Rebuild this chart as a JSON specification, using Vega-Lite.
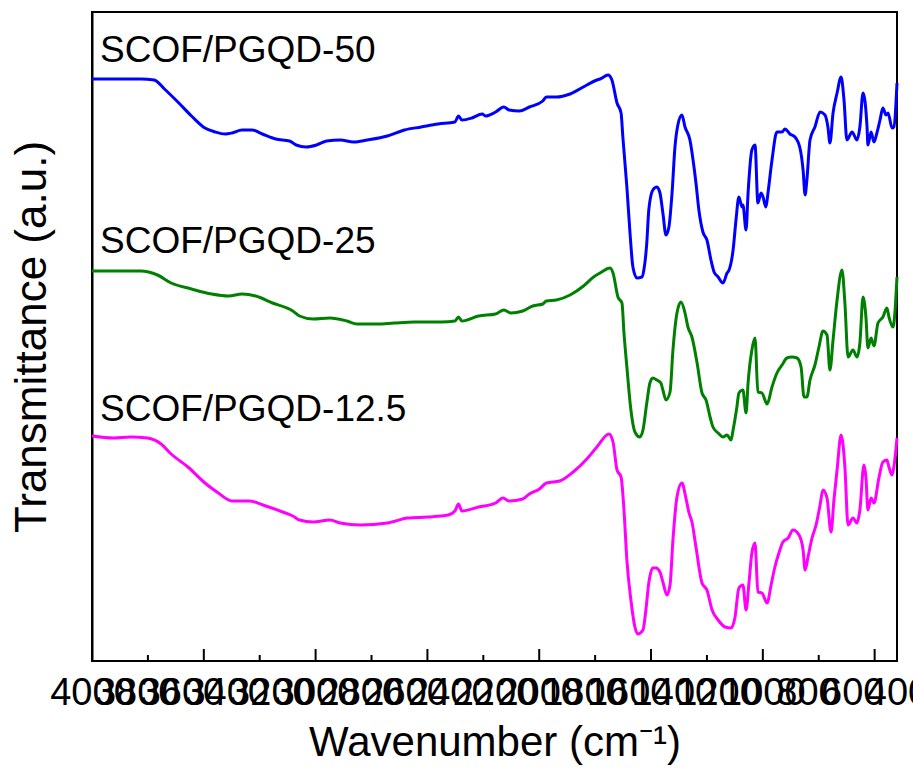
{
  "$schema": "https://vega.github.io/schema/vega-lite/v6.json",
  "width": 805,
  "height": 649,
  "autosize": {"type": "none"},
  "padding": {"left": 92, "top": 12, "right": 16, "bottom": 110},
  "background": "#ffffff",
  "config": {
    "view": {"stroke": "#000000", "strokeWidth": 2},
    "font": "Liberation Sans",
    "axisX": {
      "values": [4000, 3500, 3000, 2500, 2000, 1500, 1000, 500],
      "format": "d",
      "ticks": false,
      "tickSize": 0,
      "domain": false,
      "grid": false,
      "labelFont": "Liberation Sans",
      "labelFontSize": 38,
      "labelColor": "#000000",
      "labelPadding": 13,
      "labelFlush": false,
      "labelOverlap": false,
      "titleFont": "Liberation Sans",
      "titleFontSize": 42,
      "titleFontWeight": "normal",
      "titleColor": "#000000",
      "titlePadding": 10
    },
    "axisY": {
      "titleFont": "Liberation Sans",
      "titleFontSize": 44,
      "titleFontWeight": "normal",
      "titleColor": "#000000",
      "titlePadding": 38,
      "labels": false,
      "ticks": false,
      "tickSize": 0,
      "grid": false,
      "domainColor": "#000000",
      "domainWidth": 2
    }
  },
  "datasets": {
    "spectra": [
      {"s":"50","w":4000,"t":582},{"s":"50","w":3782,"t":582},{"s":"50","w":3722,"t":581},{"s":"50","w":3676,"t":572},{"s":"50","w":3616,"t":559},{"s":"50","w":3555,"t":545},{"s":"50","w":3495,"t":533},{"s":"50","w":3449,"t":529},{"s":"50","w":3404,"t":527},{"s":"50","w":3374,"t":528},{"s":"50","w":3329,"t":531},{"s":"50","w":3284,"t":531},{"s":"50","w":3238,"t":527},{"s":"50","w":3178,"t":522},{"s":"50","w":3117,"t":520},{"s":"50","w":3087,"t":516},{"s":"50","w":3042,"t":514},{"s":"50","w":2996,"t":516},{"s":"50","w":2951,"t":520},{"s":"50","w":2890,"t":521},{"s":"50","w":2830,"t":519},{"s":"50","w":2769,"t":521},{"s":"50","w":2679,"t":525},{"s":"50","w":2603,"t":531},{"s":"50","w":2528,"t":534},{"s":"50","w":2452,"t":537},{"s":"50","w":2377,"t":539},{"s":"50","w":2361,"t":545},{"s":"50","w":2346,"t":541},{"s":"50","w":2301,"t":543},{"s":"50","w":2255,"t":547},{"s":"50","w":2240,"t":545},{"s":"50","w":2195,"t":549},{"s":"50","w":2158,"t":554},{"s":"50","w":2135,"t":551},{"s":"50","w":2089,"t":550},{"s":"50","w":2044,"t":554},{"s":"50","w":1984,"t":560},{"s":"50","w":1968,"t":564},{"s":"50","w":1923,"t":564},{"s":"50","w":1862,"t":567},{"s":"50","w":1787,"t":576},{"s":"50","w":1742,"t":581},{"s":"50","w":1728,"t":582},{"s":"50","w":1692,"t":586},{"s":"50","w":1675,"t":581},{"s":"50","w":1652,"t":558},{"s":"50","w":1634,"t":548},{"s":"50","w":1626,"t":524},{"s":"50","w":1608,"t":474},{"s":"50","w":1594,"t":428},{"s":"50","w":1581,"t":394},{"s":"50","w":1563,"t":383},{"s":"50","w":1541,"t":384},{"s":"50","w":1532,"t":391},{"s":"50","w":1519,"t":418},{"s":"50","w":1510,"t":451},{"s":"50","w":1492,"t":471},{"s":"50","w":1474,"t":474},{"s":"50","w":1460,"t":468},{"s":"50","w":1447,"t":448},{"s":"50","w":1433,"t":426},{"s":"50","w":1420,"t":434},{"s":"50","w":1406,"t":468},{"s":"50","w":1393,"t":514},{"s":"50","w":1380,"t":536},{"s":"50","w":1362,"t":546},{"s":"50","w":1348,"t":534},{"s":"50","w":1326,"t":521},{"s":"50","w":1312,"t":501},{"s":"50","w":1299,"t":478},{"s":"50","w":1286,"t":451},{"s":"50","w":1268,"t":429},{"s":"50","w":1250,"t":421},{"s":"50","w":1232,"t":401},{"s":"50","w":1218,"t":389},{"s":"50","w":1200,"t":384},{"s":"50","w":1178,"t":378},{"s":"50","w":1160,"t":388},{"s":"50","w":1151,"t":391},{"s":"50","w":1133,"t":411},{"s":"50","w":1120,"t":441},{"s":"50","w":1107,"t":464},{"s":"50","w":1093,"t":454},{"s":"50","w":1089,"t":456},{"s":"50","w":1075,"t":431},{"s":"50","w":1066,"t":468},{"s":"50","w":1049,"t":511},{"s":"50","w":1035,"t":516},{"s":"50","w":1022,"t":458},{"s":"50","w":1008,"t":468},{"s":"50","w":999,"t":464},{"s":"50","w":986,"t":454},{"s":"50","w":977,"t":468},{"s":"50","w":959,"t":501},{"s":"50","w":937,"t":529},{"s":"50","w":914,"t":529},{"s":"50","w":901,"t":532},{"s":"50","w":879,"t":527},{"s":"50","w":856,"t":524},{"s":"50","w":834,"t":513},{"s":"50","w":820,"t":491},{"s":"50","w":811,"t":466},{"s":"50","w":803,"t":481},{"s":"50","w":789,"t":521},{"s":"50","w":767,"t":534},{"s":"50","w":744,"t":549},{"s":"50","w":722,"t":546},{"s":"50","w":709,"t":534},{"s":"50","w":700,"t":518},{"s":"50","w":686,"t":548},{"s":"50","w":668,"t":568},{"s":"50","w":650,"t":584},{"s":"50","w":637,"t":561},{"s":"50","w":624,"t":521},{"s":"50","w":601,"t":529},{"s":"50","w":579,"t":521},{"s":"50","w":566,"t":534},{"s":"50","w":552,"t":568},{"s":"50","w":534,"t":534},{"s":"50","w":530,"t":516},{"s":"50","w":516,"t":529},{"s":"50","w":503,"t":519},{"s":"50","w":490,"t":528},{"s":"50","w":476,"t":541},{"s":"50","w":463,"t":553},{"s":"50","w":449,"t":546},{"s":"50","w":440,"t":548},{"s":"50","w":422,"t":533},{"s":"50","w":414,"t":534},{"s":"50","w":400,"t":578},
      {"s":"25","w":4000,"t":390},{"s":"25","w":3858,"t":390},{"s":"25","w":3782,"t":390},{"s":"25","w":3707,"t":386},{"s":"25","w":3646,"t":378},{"s":"25","w":3555,"t":372},{"s":"25","w":3465,"t":367},{"s":"25","w":3389,"t":365},{"s":"25","w":3329,"t":367},{"s":"25","w":3268,"t":365},{"s":"25","w":3193,"t":358},{"s":"25","w":3102,"t":350},{"s":"25","w":3072,"t":345},{"s":"25","w":3011,"t":342},{"s":"25","w":2936,"t":343},{"s":"25","w":2860,"t":340},{"s":"25","w":2815,"t":337},{"s":"25","w":2724,"t":337},{"s":"25","w":2649,"t":338},{"s":"25","w":2558,"t":339},{"s":"25","w":2437,"t":339},{"s":"25","w":2377,"t":340},{"s":"25","w":2361,"t":344},{"s":"25","w":2346,"t":340},{"s":"25","w":2271,"t":345},{"s":"25","w":2195,"t":347},{"s":"25","w":2158,"t":351},{"s":"25","w":2127,"t":348},{"s":"25","w":2074,"t":350},{"s":"25","w":2029,"t":355},{"s":"25","w":1984,"t":357},{"s":"25","w":1968,"t":360},{"s":"25","w":1923,"t":361},{"s":"25","w":1862,"t":366},{"s":"25","w":1802,"t":375},{"s":"25","w":1757,"t":384},{"s":"25","w":1728,"t":388},{"s":"25","w":1683,"t":393},{"s":"25","w":1670,"t":388},{"s":"25","w":1648,"t":364},{"s":"25","w":1630,"t":358},{"s":"25","w":1621,"t":328},{"s":"25","w":1608,"t":294},{"s":"25","w":1590,"t":251},{"s":"25","w":1572,"t":229},{"s":"25","w":1550,"t":224},{"s":"25","w":1536,"t":231},{"s":"25","w":1519,"t":258},{"s":"25","w":1505,"t":278},{"s":"25","w":1492,"t":283},{"s":"25","w":1474,"t":281},{"s":"25","w":1456,"t":278},{"s":"25","w":1447,"t":271},{"s":"25","w":1433,"t":261},{"s":"25","w":1415,"t":269},{"s":"25","w":1402,"t":311},{"s":"25","w":1384,"t":348},{"s":"25","w":1366,"t":359},{"s":"25","w":1348,"t":348},{"s":"25","w":1335,"t":334},{"s":"25","w":1317,"t":324},{"s":"25","w":1294,"t":298},{"s":"25","w":1272,"t":268},{"s":"25","w":1254,"t":261},{"s":"25","w":1236,"t":244},{"s":"25","w":1223,"t":234},{"s":"25","w":1200,"t":228},{"s":"25","w":1178,"t":224},{"s":"25","w":1160,"t":226},{"s":"25","w":1142,"t":221},{"s":"25","w":1133,"t":231},{"s":"25","w":1116,"t":254},{"s":"25","w":1107,"t":268},{"s":"25","w":1089,"t":271},{"s":"25","w":1075,"t":248},{"s":"25","w":1066,"t":278},{"s":"25","w":1049,"t":311},{"s":"25","w":1035,"t":323},{"s":"25","w":1022,"t":269},{"s":"25","w":1004,"t":268},{"s":"25","w":981,"t":257},{"s":"25","w":959,"t":274},{"s":"25","w":937,"t":288},{"s":"25","w":914,"t":296},{"s":"25","w":892,"t":303},{"s":"25","w":870,"t":304},{"s":"25","w":847,"t":303},{"s":"25","w":829,"t":294},{"s":"25","w":816,"t":264},{"s":"25","w":803,"t":264},{"s":"25","w":789,"t":281},{"s":"25","w":767,"t":296},{"s":"25","w":749,"t":314},{"s":"25","w":731,"t":330},{"s":"25","w":713,"t":326},{"s":"25","w":700,"t":291},{"s":"25","w":686,"t":321},{"s":"25","w":668,"t":361},{"s":"25","w":646,"t":391},{"s":"25","w":633,"t":358},{"s":"25","w":619,"t":304},{"s":"25","w":597,"t":311},{"s":"25","w":579,"t":304},{"s":"25","w":566,"t":318},{"s":"25","w":552,"t":364},{"s":"25","w":539,"t":344},{"s":"25","w":530,"t":313},{"s":"25","w":516,"t":323},{"s":"25","w":503,"t":315},{"s":"25","w":485,"t":338},{"s":"25","w":463,"t":344},{"s":"25","w":445,"t":353},{"s":"25","w":436,"t":344},{"s":"25","w":418,"t":334},{"s":"25","w":400,"t":384},
      {"s":"12.5","w":4000,"t":225},{"s":"12.5","w":3903,"t":223},{"s":"12.5","w":3827,"t":224},{"s":"12.5","w":3752,"t":223},{"s":"12.5","w":3691,"t":217},{"s":"12.5","w":3646,"t":207},{"s":"12.5","w":3571,"t":194},{"s":"12.5","w":3495,"t":178},{"s":"12.5","w":3435,"t":168},{"s":"12.5","w":3374,"t":160},{"s":"12.5","w":3298,"t":160},{"s":"12.5","w":3223,"t":155},{"s":"12.5","w":3147,"t":149},{"s":"12.5","w":3102,"t":145},{"s":"12.5","w":3072,"t":141},{"s":"12.5","w":3011,"t":139},{"s":"12.5","w":2936,"t":141},{"s":"12.5","w":2890,"t":138},{"s":"12.5","w":2800,"t":136},{"s":"12.5","w":2679,"t":138},{"s":"12.5","w":2588,"t":143},{"s":"12.5","w":2497,"t":144},{"s":"12.5","w":2407,"t":146},{"s":"12.5","w":2377,"t":150},{"s":"12.5","w":2361,"t":157},{"s":"12.5","w":2346,"t":150},{"s":"12.5","w":2271,"t":154},{"s":"12.5","w":2195,"t":158},{"s":"12.5","w":2162,"t":163},{"s":"12.5","w":2135,"t":160},{"s":"12.5","w":2074,"t":162},{"s":"12.5","w":2044,"t":167},{"s":"12.5","w":1999,"t":172},{"s":"12.5","w":1968,"t":178},{"s":"12.5","w":1908,"t":180},{"s":"12.5","w":1848,"t":189},{"s":"12.5","w":1787,"t":202},{"s":"12.5","w":1742,"t":214},{"s":"12.5","w":1688,"t":227},{"s":"12.5","w":1670,"t":219},{"s":"12.5","w":1652,"t":191},{"s":"12.5","w":1634,"t":184},{"s":"12.5","w":1621,"t":151},{"s":"12.5","w":1608,"t":101},{"s":"12.5","w":1590,"t":61},{"s":"12.5","w":1572,"t":34},{"s":"12.5","w":1559,"t":27},{"s":"12.5","w":1536,"t":31},{"s":"12.5","w":1523,"t":51},{"s":"12.5","w":1510,"t":78},{"s":"12.5","w":1492,"t":93},{"s":"12.5","w":1478,"t":93},{"s":"12.5","w":1460,"t":89},{"s":"12.5","w":1447,"t":79},{"s":"12.5","w":1429,"t":66},{"s":"12.5","w":1415,"t":76},{"s":"12.5","w":1402,"t":121},{"s":"12.5","w":1384,"t":164},{"s":"12.5","w":1362,"t":178},{"s":"12.5","w":1344,"t":163},{"s":"12.5","w":1330,"t":148},{"s":"12.5","w":1317,"t":139},{"s":"12.5","w":1299,"t":114},{"s":"12.5","w":1272,"t":78},{"s":"12.5","w":1250,"t":71},{"s":"12.5","w":1227,"t":51},{"s":"12.5","w":1200,"t":41},{"s":"12.5","w":1169,"t":34},{"s":"12.5","w":1142,"t":33},{"s":"12.5","w":1125,"t":43},{"s":"12.5","w":1107,"t":73},{"s":"12.5","w":1089,"t":76},{"s":"12.5","w":1075,"t":51},{"s":"12.5","w":1062,"t":78},{"s":"12.5","w":1049,"t":108},{"s":"12.5","w":1035,"t":118},{"s":"12.5","w":1022,"t":69},{"s":"12.5","w":1004,"t":68},{"s":"12.5","w":981,"t":58},{"s":"12.5","w":963,"t":76},{"s":"12.5","w":946,"t":94},{"s":"12.5","w":928,"t":108},{"s":"12.5","w":910,"t":119},{"s":"12.5","w":887,"t":123},{"s":"12.5","w":865,"t":131},{"s":"12.5","w":838,"t":126},{"s":"12.5","w":820,"t":111},{"s":"12.5","w":811,"t":91},{"s":"12.5","w":798,"t":104},{"s":"12.5","w":780,"t":123},{"s":"12.5","w":762,"t":136},{"s":"12.5","w":744,"t":156},{"s":"12.5","w":731,"t":171},{"s":"12.5","w":713,"t":163},{"s":"12.5","w":695,"t":129},{"s":"12.5","w":682,"t":161},{"s":"12.5","w":668,"t":191},{"s":"12.5","w":650,"t":226},{"s":"12.5","w":633,"t":194},{"s":"12.5","w":619,"t":136},{"s":"12.5","w":597,"t":143},{"s":"12.5","w":579,"t":138},{"s":"12.5","w":566,"t":151},{"s":"12.5","w":548,"t":196},{"s":"12.5","w":539,"t":184},{"s":"12.5","w":530,"t":151},{"s":"12.5","w":516,"t":163},{"s":"12.5","w":503,"t":158},{"s":"12.5","w":481,"t":183},{"s":"12.5","w":463,"t":199},{"s":"12.5","w":445,"t":201},{"s":"12.5","w":436,"t":194},{"s":"12.5","w":422,"t":186},{"s":"12.5","w":414,"t":194},{"s":"12.5","w":400,"t":223}
    ],
    "labels": [
      {"label": "SCOF/PGQD-50", "w": 3964, "t": 599},
      {"label": "SCOF/PGQD-25", "w": 3964, "t": 408},
      {"label": "SCOF/PGQD-12.5", "w": 3964, "t": 240}
    ],
    "majorTicks": [{"w": 3500}, {"w": 3000}, {"w": 2500}, {"w": 2000}, {"w": 1500}, {"w": 1000}, {"w": 500}],
    "minorTicks": [{"w": 3750}, {"w": 3250}, {"w": 2750}, {"w": 2250}, {"w": 1750}, {"w": 1250}, {"w": 750}]
  },
  "layer": [
    {
      "data": {"name": "spectra"},
      "mark": {"type": "line", "strokeWidth": 3, "interpolate": "monotone"},
      "encoding": {
        "x": {
          "field": "w",
          "type": "quantitative",
          "title": "Wavenumber (cm⁻¹)",
          "scale": {"domain": [4000, 400], "nice": false, "zero": false}
        },
        "y": {
          "field": "t",
          "type": "quantitative",
          "title": "Transmittance (a.u.)",
          "scale": {"domain": [0, 649], "nice": false, "zero": false}
        },
        "color": {
          "field": "s",
          "type": "nominal",
          "scale": {"domain": ["50", "25", "12.5"], "range": ["#0000ff", "#008000", "#ff00ff"]},
          "legend": null
        }
      }
    },
    {
      "data": {"name": "majorTicks"},
      "mark": {"type": "rule", "color": "#000000", "strokeWidth": 2},
      "encoding": {
        "x": {"field": "w", "type": "quantitative", "title": "Wavenumber (cm⁻¹)"},
        "y": {"datum": 0, "type": "quantitative", "title": "Transmittance (a.u.)"},
        "y2": {"datum": 12}
      }
    },
    {
      "data": {"name": "minorTicks"},
      "mark": {"type": "rule", "color": "#000000", "strokeWidth": 2},
      "encoding": {
        "x": {"field": "w", "type": "quantitative", "title": "Wavenumber (cm⁻¹)"},
        "y": {"datum": 0, "type": "quantitative", "title": "Transmittance (a.u.)"},
        "y2": {"datum": 6}
      }
    },
    {
      "data": {"name": "labels"},
      "mark": {"type": "text", "align": "left", "baseline": "alphabetic", "font": "Liberation Sans", "fontSize": 37, "color": "#000000"},
      "encoding": {
        "x": {"field": "w", "type": "quantitative", "title": "Wavenumber (cm⁻¹)"},
        "y": {"field": "t", "type": "quantitative", "title": "Transmittance (a.u.)"},
        "text": {"field": "label"}
      }
    }
  ]
}
